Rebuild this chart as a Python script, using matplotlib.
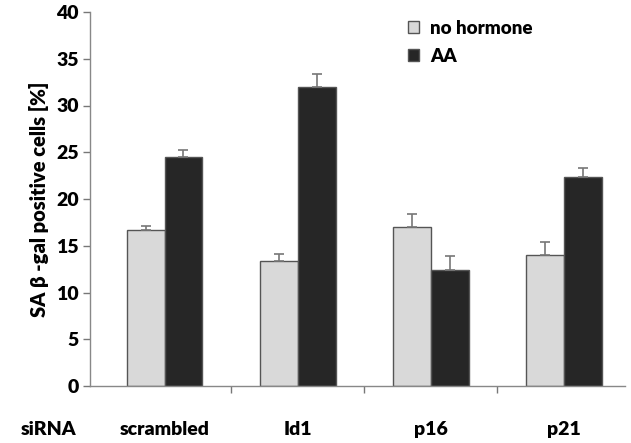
import matplotlib.pyplot as plt
import numpy as np

plt.rcParams["font.family"] = ["Lato", "DejaVu Sans"]
plt.rcParams["font.weight"] = "heavy"

categories = ["scrambled", "Id1", "p16", "p21"]
no_hormone = [16.7, 13.4, 17.0, 14.0]
no_hormone_err = [0.4, 0.7, 1.4, 1.4]
aa = [24.5, 32.0, 12.4, 22.3]
aa_err = [0.7, 1.4, 1.5, 1.0]
yticks = [0, 5, 10, 15, 20, 25, 30, 35, 40]

fig = plt.figure(figsize=(6.31, 4.43), dpi=100)
ax = fig.add_axes([90 / 631, 1 - 386 / 443, 535 / 631, (386 - 12) / 443])

x = np.arange(len(categories))
w = 0.285
err_kw = dict(ecolor="#777777", elinewidth=1.2, capsize=3.5, capthick=1.2)
ax.bar(x - w / 2, no_hormone, w, color="#d9d9d9", edgecolor="#555555", linewidth=1,
       yerr=[np.zeros(4), no_hormone_err], error_kw=err_kw, label="no hormone")
ax.bar(x + w / 2, aa, w, color="#262626", edgecolor="#555555", linewidth=1,
       yerr=[np.zeros(4), aa_err], error_kw=err_kw, label="AA")

ax.set_xlim(-0.56, 3.46)
ax.set_ylim(0, 40)
ax.set_yticks(yticks)
ax.tick_params(axis="y", labelsize=14, length=5, color="#777777", width=1, pad=3)
for lab in ax.get_yticklabels():
    lab.set_fontweight("heavy")
ax.set_xticks([0.5, 1.5, 2.5])
ax.set_xticklabels([])
ax.tick_params(axis="x", length=5, color="#777777", width=1, direction="out")

for s in ["top", "right"]:
    ax.spines[s].set_visible(False)
for s in ["left", "bottom"]:
    ax.spines[s].set_color("#888888")
    ax.spines[s].set_linewidth(1)

ax.set_ylabel("SA β -gal positive cells [%]", fontsize=14.5, fontweight="heavy", labelpad=5)

for xi, c in zip(x, categories):
    ax.text(xi, -4.7, c, ha="center", va="center", fontsize=14, fontweight="heavy")
ax.text(-0.87, -4.7, "siRNA", ha="center", va="center", fontsize=14, fontweight="heavy")

ax.legend(loc="upper left", bbox_to_anchor=(0.562, 1.025), frameon=False,
          handlelength=0.6, handleheight=0.6, handletextpad=0.6, labelspacing=0.6,
          prop={"weight": "heavy", "size": 13.5})

fig.savefig("out.png", dpi=100)
